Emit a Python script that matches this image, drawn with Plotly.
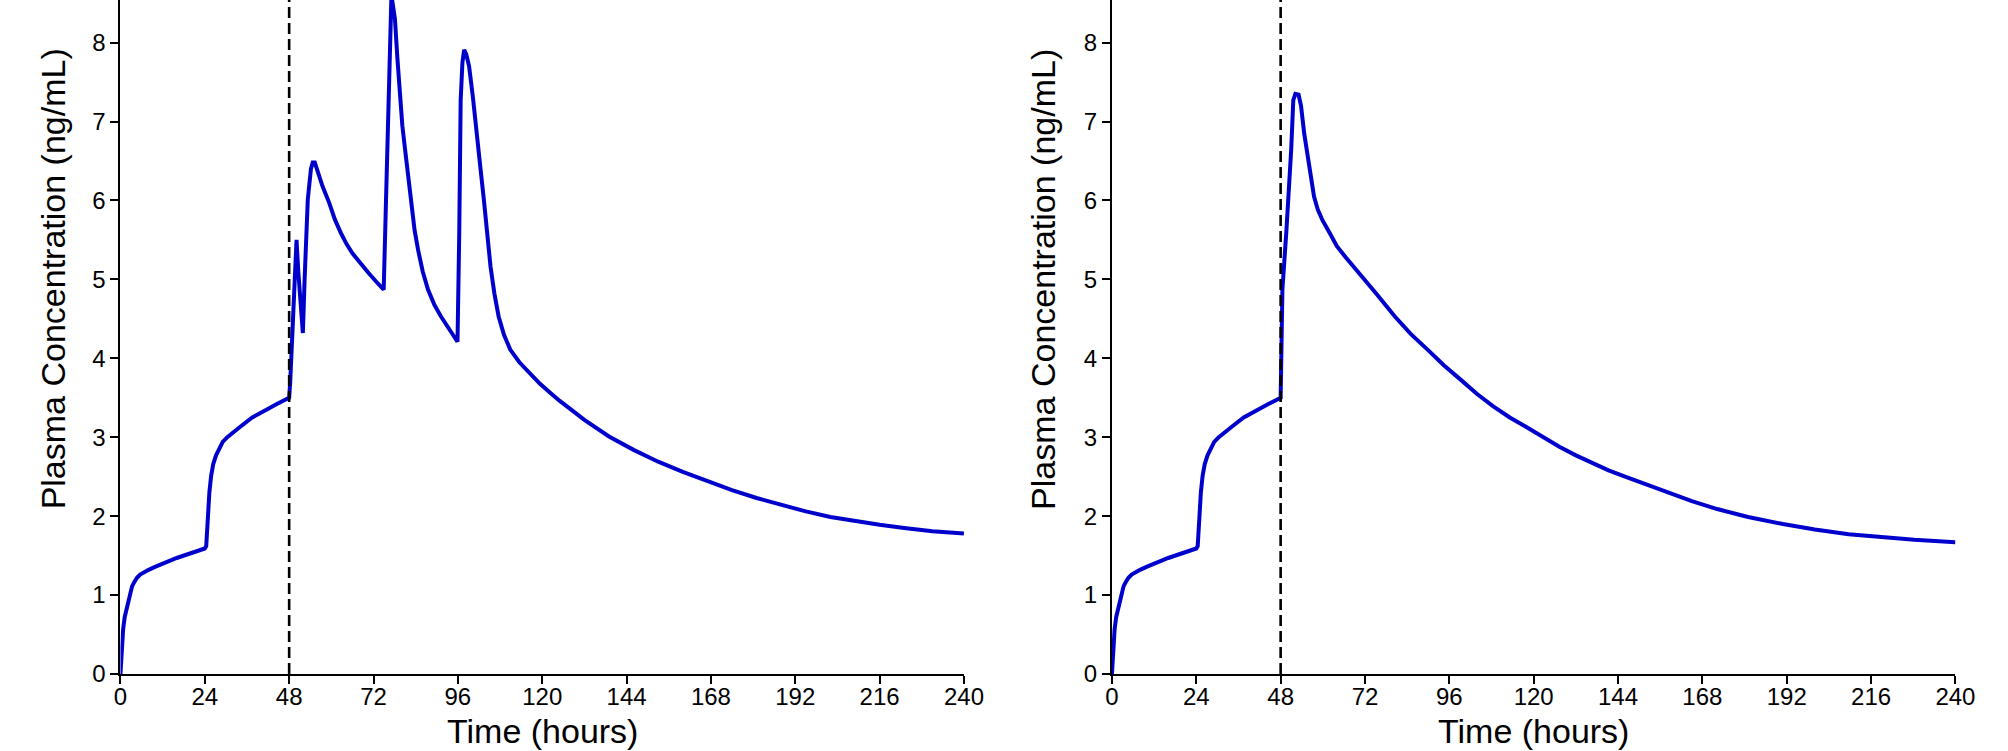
import plotly.graph_objects as go
from plotly.subplots import make_subplots

# values (time in hours, concentration in ng/mL)
T_LEFT = [0, 0.4, 0.75, 1.2, 1.9, 2.6, 3.3, 4.0, 4.7, 5.6, 6.6, 8, 10, 13, 16, 20, 24,
          24.4, 24.7, 24.9, 25.3, 25.8, 26.4, 27.2, 28.1, 29.1, 30.4, 31.9, 34, 37.5, 41, 44.5, 48,
          48.3, 49.2, 50.1, 50.6, 51.2, 51.9, 52.4, 53.3, 54.2, 54.7, 55.3, 56.2, 57.5, 59.4,
          61, 62.7, 64.3, 66.0, 68.3, 70.6, 72.8, 74.9, 75.5, 76.1, 76.6, 77.1, 77.6, 78.1,
          78.8, 79.5, 80.2, 81.0, 81.9, 82.8, 83.7, 84.7, 86, 87.5, 89.3, 91.2, 93.5, 95.9,
          96.4, 96.8, 97.3, 97.8, 98.4, 99.2, 100.3, 101.5, 102.4, 103.4, 104.3, 105.3, 106.4,
          107.6, 109.1, 110.9, 113.5, 116.5, 119.3, 122.1, 125, 132, 139, 146, 153, 160, 167,
          174, 181, 188, 195, 202, 209, 216, 223, 231, 240]
C_LEFT = [0, 0.35, 0.56, 0.72, 0.86, 0.99, 1.11, 1.17, 1.22, 1.26, 1.29, 1.32, 1.36, 1.42, 1.47, 1.53, 1.59,
          1.62, 1.85, 2.05, 2.3, 2.51, 2.66, 2.77, 2.86, 2.94, 3.0, 3.06, 3.13, 3.25, 3.34, 3.42, 3.5,
          3.7, 4.6, 5.5, 5.1, 4.7, 4.32, 5.0, 6.01, 6.4, 6.48, 6.48, 6.35, 6.18, 5.97,
          5.76, 5.59, 5.45, 5.33, 5.2, 5.08, 4.97, 4.87, 5.9, 7.0, 8.0, 8.6, 8.45, 8.3,
          7.8, 7.27, 6.95, 6.64, 6.27, 5.92, 5.62, 5.37, 5.1, 4.87, 4.68, 4.53, 4.37, 4.21,
          5.6, 7.27, 7.75, 7.91, 7.85, 7.7, 7.3, 6.85, 6.42, 6.01, 5.58, 5.16, 4.82,
          4.53, 4.3, 4.11, 3.95, 3.81, 3.68, 3.57, 3.46, 3.22, 3.01, 2.84, 2.69, 2.56, 2.44,
          2.33, 2.23, 2.14, 2.06, 1.99, 1.935, 1.89, 1.85, 1.81, 1.78]

T_RIGHT = [0, 0.4, 0.75, 1.2, 1.9, 2.6, 3.3, 4.0, 4.7, 5.6, 6.6, 8, 10, 13, 16, 20, 24,
           24.4, 24.7, 24.9, 25.3, 25.8, 26.4, 27.2, 28.1, 29.1, 30.4, 31.9, 34, 37.5, 41, 44.5, 48,
           48.2, 48.5, 49.6, 50.3, 51.0, 51.6, 52.2, 53.1, 53.8, 54.7, 55.4, 56.1, 57.5, 58.6,
           59.9, 61.8, 64, 66.5, 69, 71.1, 75, 80.5, 85, 89.8, 94.5, 99.2, 103.8, 108.5, 113.2,
           117.9, 122.6, 127.3, 132, 136.6, 141.3, 146, 151.6, 158.1, 165, 172.2, 181, 190.9,
           200, 209.6, 219, 228.3, 240]
C_RIGHT = [0, 0.35, 0.56, 0.72, 0.86, 0.99, 1.11, 1.17, 1.22, 1.26, 1.29, 1.32, 1.36, 1.42, 1.47, 1.53, 1.59,
           1.62, 1.85, 2.05, 2.3, 2.51, 2.66, 2.77, 2.86, 2.94, 3.0, 3.06, 3.13, 3.25, 3.34, 3.42, 3.5,
           3.9, 4.87, 5.59, 6.1, 6.64, 7.27, 7.35, 7.34, 7.2, 6.85, 6.63, 6.43, 6.05, 5.88,
           5.75, 5.6, 5.42, 5.28, 5.15, 5.04, 4.83, 4.53, 4.31, 4.11, 3.91, 3.73, 3.55, 3.39, 3.25,
           3.13, 3.0, 2.88, 2.77, 2.67, 2.58, 2.5, 2.41, 2.30, 2.19, 2.09, 1.99, 1.90,
           1.83, 1.77, 1.73, 1.70, 1.67]

X_TICKS = [0, 24, 48, 72, 96, 120, 144, 168, 192, 216, 240]
Y_TICKS = [0, 1, 2, 3, 4, 5, 6, 7, 8]
DOSE_CHANGE = 48

X_TITLE = "Time (hours)"
Y_TITLE = "Plasma Concentration (ng/mL)"

FONT = "Liberation Sans, Arial, sans-serif"
LINE_BLUE = "#0000CD"

W, H = 2008, 751
BOTTOM = 77
PLOT_H = H - BOTTOM

fig = make_subplots(rows=1, cols=2, horizontal_spacing=0.07)
fig.add_trace(go.Scatter(x=T_LEFT, y=C_LEFT, mode="lines",
                         line=dict(color=LINE_BLUE, width=4)), row=1, col=1)
fig.add_trace(go.Scatter(x=T_RIGHT, y=C_RIGHT, mode="lines",
                         line=dict(color=LINE_BLUE, width=4)), row=1, col=2)

axis_common = dict(showline=True, linecolor="black", linewidth=2,
                   ticks="outside", ticklen=8, tickwidth=2, tickcolor="black",
                   showgrid=False, zeroline=False,
                   tickfont=dict(family=FONT, size=24, color="black"))

fig.update_xaxes(range=[0, 240], tickvals=X_TICKS, ticklabelstandoff=-8, **axis_common)
fig.update_yaxes(range=[0, 8.54], tickvals=Y_TICKS, **axis_common)
fig.layout.xaxis.domain = [115 / W, 970 / W]
fig.layout.xaxis2.domain = [1120 / W, 1975 / W]

for xref in ["x", "x2"]:
    yref = "y domain" if xref == "x" else "y2 domain"
    fig.add_shape(type="line", xref=xref, yref=yref, x0=DOSE_CHANGE, x1=DOSE_CHANGE,
                  y0=0, y1=1, line=dict(color="black", width=2.6, dash="11px,5px"))

annotations = []
for xc, yc in [((115 + 970) / 2 / W, 47 / W), ((1120 + 1975) / 2 / W, 1050 / W)]:
    annotations.append(dict(text=X_TITLE, xref="paper", yref="paper", x=xc,
                            y=(PLOT_H - 710) / PLOT_H, xanchor="center", yanchor="top",
                            showarrow=False, font=dict(family=FONT, size=34, color="black")))
    annotations.append(dict(text=Y_TITLE, xref="paper", yref="paper", x=yc,
                            y=(PLOT_H - 279) / PLOT_H, xanchor="center", yanchor="middle",
                            textangle=-90, showarrow=False,
                            font=dict(family=FONT, size=34, color="black")))

fig.update_layout(width=W, height=H, margin=dict(l=0, r=0, t=0, b=BOTTOM),
                  paper_bgcolor="white", plot_bgcolor="white", showlegend=False,
                  annotations=annotations, font=dict(family=FONT, color="black"))

# the page's default body margin would push the fixed-size figure 8px down and right
fig.write_html("out.html", config={"displayModeBar": False},
               post_script="document.body.style.margin='0';document.body.style.overflow='hidden';")
